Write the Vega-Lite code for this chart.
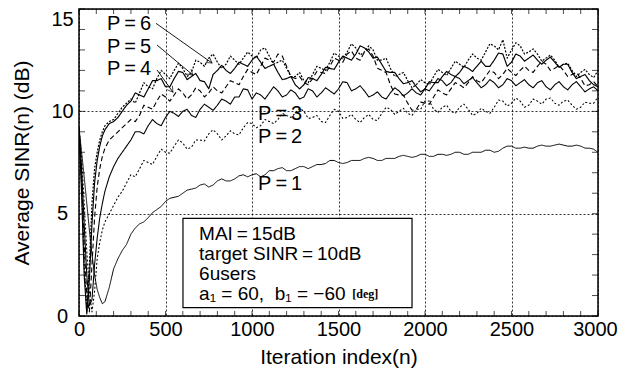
{
  "$schema": "https://vega.github.io/schema/vega-lite/v6.json",
  "autosize": "none",
  "width": 519,
  "height": 307,
  "padding": {"left": 79, "top": 9, "right": 20, "bottom": 53},
  "background": "white",
  "config": {
    "view": {"stroke": "black", "strokeWidth": 1.5},
    "font": "Liberation Sans",
    "axis": {"labelFont": "Liberation Sans", "titleFont": "Liberation Sans", "labelColor": "black", "titleColor": "black", "titleFontWeight": "normal", "domain": false, "tickColor": "black"}
  },
  "datasets": {
    "curves": [
      {"n":0,"P1":9.2,"P2":9.2,"P3":9.2,"P4":9.2,"P5":9.2,"P6":9.2},
      {"n":15,"P1":8.0,"P2":7.8,"P3":7.2,"P4":6.8,"P5":6.0,"P6":6.5},
      {"n":30,"P1":6.8,"P2":5.5,"P3":4.5,"P4":3.5,"P5":2.0,"P6":2.5},
      {"n":45,"P1":5.5,"P2":3.2,"P3":2.0,"P4":1.0,"P5":0.1,"P6":0.2},
      {"n":60,"P1":4.2,"P2":1.2,"P3":0.5,"P4":0.2,"P5":1.8,"P6":2.5},
      {"n":75,"P1":3.0,"P2":0.2,"P3":0.8,"P4":2.5,"P5":4.5,"P6":5.5},
      {"n":90,"P1":2.0,"P2":1.2,"P3":2.5,"P4":4.8,"P5":6.5,"P6":7.2},
      {"n":105,"P1":1.3,"P2":2.8,"P3":3.8,"P4":6.3,"P5":7.6,"P6":8.0},
      {"n":120,"P1":0.9,"P2":3.6,"P3":4.8,"P4":7.2,"P5":8.3,"P6":8.6},
      {"n":135,"P1":0.6,"P2":4.2,"P3":5.5,"P4":7.8,"P5":8.8,"P6":9.0},
      {"n":150,"P1":0.7,"P2":4.6,"P3":6.1,"P4":8.2,"P5":9.1,"P6":9.3},
      {"n":175,"P1":1.4,"P2":5.0,"P3":6.8,"P4":8.6,"P5":9.4,"P6":9.5},
      {"n":200,"P1":2.3,"P2":5.4,"P3":7.3,"P4":8.8,"P5":9.5,"P6":9.6},
      {"n":225,"P1":2.8,"P2":5.8,"P3":7.7,"P4":9.0,"P5":9.7,"P6":9.9},
      {"n":250,"P1":3.2,"P2":6.1,"P3":8.0,"P4":9.2,"P5":10.0,"P6":10.2},
      {"n":275,"P1":3.5,"P2":6.5,"P3":8.3,"P4":9.4,"P5":10.3,"P6":10.4},
      {"n":300,"P1":4.0,"P2":6.9,"P3":8.6,"P4":9.6,"P5":10.5,"P6":10.6},
      {"n":325,"P1":4.3,"P2":6.8,"P3":9.0,"P4":9.5,"P5":10.9,"P6":10.4},
      {"n":350,"P1":4.5,"P2":7.2,"P3":9.0,"P4":9.8,"P5":10.8,"P6":10.9},
      {"n":375,"P1":4.6,"P2":7.6,"P3":8.9,"P4":10.3,"P5":10.7,"P6":11.4},
      {"n":400,"P1":4.8,"P2":7.5,"P3":9.3,"P4":10.2,"P5":11.1,"P6":11.2},
      {"n":425,"P1":5.05,"P2":7.4,"P3":9.6,"P4":10.1,"P5":11.5,"P6":11.1},
      {"n":450,"P1":5.2,"P2":7.8,"P3":9.4,"P4":10.5,"P5":11.5,"P6":11.6},
      {"n":475,"P1":5.35,"P2":8.15,"P3":9.3,"P4":10.85,"P5":11.6,"P6":12.0},
      {"n":500,"P1":5.6,"P2":8.0,"P3":9.7,"P4":10.7,"P5":11.2,"P6":11.8},
      {"n":525,"P1":5.75,"P2":7.95,"P3":10.0,"P4":10.5,"P5":11.2,"P6":11.6},
      {"n":550,"P1":5.8,"P2":8.3,"P3":9.9,"P4":10.8,"P5":11.6,"P6":12.0},
      {"n":575,"P1":5.85,"P2":8.6,"P3":9.75,"P4":11.1,"P5":11.95,"P6":12.35},
      {"n":600,"P1":6.0,"P2":8.45,"P3":10.0,"P4":10.9,"P5":11.9,"P6":12.1},
      {"n":625,"P1":6.15,"P2":8.15,"P3":10.1,"P4":10.6,"P5":11.55,"P6":11.7},
      {"n":650,"P1":6.2,"P2":8.25,"P3":9.8,"P4":10.8,"P5":11.7,"P6":11.9},
      {"n":675,"P1":6.25,"P2":8.6,"P3":9.7,"P4":11.15,"P5":11.85,"P6":12.5},
      {"n":700,"P1":6.4,"P2":8.6,"P3":10.1,"P4":11.0,"P5":11.5,"P6":12.4},
      {"n":725,"P1":6.45,"P2":8.55,"P3":10.35,"P4":10.7,"P5":11.45,"P6":12.2},
      {"n":750,"P1":6.3,"P2":8.9,"P3":10.2,"P4":10.9,"P5":11.1,"P6":12.6},
      {"n":775,"P1":6.4,"P2":9.1,"P3":10.05,"P4":11.2,"P5":11.8,"P6":12.8},
      {"n":800,"P1":6.6,"P2":8.9,"P3":10.3,"P4":11.0,"P5":12.0,"P6":12.4},
      {"n":825,"P1":6.7,"P2":8.6,"P3":10.6,"P4":10.9,"P5":12.25,"P6":12.1},
      {"n":850,"P1":6.6,"P2":8.8,"P3":10.5,"P4":11.2,"P5":12.0,"P6":12.3},
      {"n":875,"P1":6.6,"P2":9.05,"P3":10.35,"P4":11.5,"P5":11.85,"P6":12.7},
      {"n":900,"P1":6.7,"P2":8.9,"P3":10.7,"P4":11.4,"P5":12.1,"P6":12.5},
      {"n":925,"P1":6.85,"P2":8.85,"P3":10.7,"P4":11.3,"P5":12.4,"P6":12.3},
      {"n":950,"P1":6.9,"P2":9.2,"P3":11.1,"P4":11.7,"P5":12.3,"P6":12.6},
      {"n":975,"P1":6.8,"P2":9.45,"P3":11.05,"P4":12.05,"P5":12.2,"P6":12.9},
      {"n":1000,"P1":6.9,"P2":9.4,"P3":10.6,"P4":11.9,"P5":12.5,"P6":12.7},
      {"n":1025,"P1":6.95,"P2":9.2,"P3":10.9,"P4":11.8,"P5":12.7,"P6":12.6},
      {"n":1050,"P1":6.8,"P2":9.3,"P3":10.8,"P4":12.2,"P5":12.4,"P6":13.0},
      {"n":1075,"P1":6.9,"P2":9.6,"P3":10.6,"P4":12.6,"P5":12.1,"P6":13.1},
      {"n":1100,"P1":7.1,"P2":9.5,"P3":10.9,"P4":12.5,"P5":12.2,"P6":12.7},
      {"n":1125,"P1":7.1,"P2":9.4,"P3":11.2,"P4":12.4,"P5":12.3,"P6":12.3},
      {"n":1150,"P1":7.2,"P2":9.6,"P3":11.0,"P4":12.8,"P5":11.9,"P6":12.4},
      {"n":1175,"P1":7.25,"P2":9.9,"P3":10.7,"P4":12.7,"P5":11.55,"P6":12.5},
      {"n":1200,"P1":7.1,"P2":9.8,"P3":10.8,"P4":12.2,"P5":11.6,"P6":12.1},
      {"n":1225,"P1":7.1,"P2":9.7,"P3":11.05,"P4":11.7,"P5":11.7,"P6":11.7},
      {"n":1250,"P1":7.2,"P2":9.9,"P3":10.9,"P4":11.6,"P5":11.3,"P6":11.7},
      {"n":1275,"P1":7.3,"P2":10.15,"P3":10.6,"P4":11.7,"P5":11.1,"P6":11.9},
      {"n":1300,"P1":7.3,"P2":10.0,"P3":10.7,"P4":11.4,"P5":11.3,"P6":11.5},
      {"n":1325,"P1":7.2,"P2":9.65,"P3":11.1,"P4":11.3,"P5":11.65,"P6":11.4},
      {"n":1350,"P1":7.3,"P2":9.7,"P3":11.0,"P4":11.6,"P5":11.6,"P6":11.8},
      {"n":1375,"P1":7.4,"P2":9.8,"P3":10.7,"P4":11.95,"P5":11.5,"P6":12.2},
      {"n":1400,"P1":7.4,"P2":9.5,"P3":10.9,"P4":11.9,"P5":11.8,"P6":12.1},
      {"n":1425,"P1":7.45,"P2":9.45,"P3":11.15,"P4":11.85,"P5":12.15,"P6":12.0},
      {"n":1450,"P1":7.6,"P2":9.8,"P3":11.0,"P4":12.2,"P5":12.1,"P6":12.4},
      {"n":1475,"P1":7.6,"P2":10.1,"P3":10.85,"P4":12.6,"P5":12.05,"P6":12.85},
      {"n":1500,"P1":7.5,"P2":10.0,"P3":11.1,"P4":12.5,"P5":12.4,"P6":12.7},
      {"n":1525,"P1":7.45,"P2":9.65,"P3":11.45,"P4":12.4,"P5":12.7,"P6":12.55},
      {"n":1550,"P1":7.5,"P2":9.7,"P3":11.4,"P4":12.8,"P5":12.6,"P6":12.9},
      {"n":1575,"P1":7.6,"P2":9.85,"P3":11.0,"P4":12.95,"P5":12.5,"P6":13.3},
      {"n":1600,"P1":7.6,"P2":9.6,"P3":11.1,"P4":12.6,"P5":12.8,"P6":13.1},
      {"n":1625,"P1":7.6,"P2":9.45,"P3":11.25,"P4":12.5,"P5":13.2,"P6":12.75},
      {"n":1650,"P1":7.7,"P2":9.7,"P3":11.0,"P4":12.9,"P5":13.1,"P6":12.9},
      {"n":1675,"P1":7.75,"P2":9.85,"P3":10.7,"P4":13.05,"P5":12.9,"P6":13.2},
      {"n":1700,"P1":7.7,"P2":9.6,"P3":10.8,"P4":12.7,"P5":12.6,"P6":13.0},
      {"n":1725,"P1":7.6,"P2":9.55,"P3":10.95,"P4":12.1,"P5":12.65,"P6":12.5},
      {"n":1750,"P1":7.6,"P2":9.9,"P3":10.7,"P4":12.0,"P5":12.3,"P6":12.5},
      {"n":1775,"P1":7.7,"P2":10.2,"P3":10.6,"P4":11.9,"P5":11.95,"P6":12.6},
      {"n":1800,"P1":7.7,"P2":10.1,"P3":10.9,"P4":11.3,"P5":11.9,"P6":12.1},
      {"n":1825,"P1":7.7,"P2":9.85,"P3":11.15,"P4":10.85,"P5":11.9,"P6":11.7},
      {"n":1850,"P1":7.8,"P2":10.0,"P3":11.0,"P4":10.8,"P5":11.6,"P6":11.8},
      {"n":1875,"P1":7.85,"P2":10.15,"P3":10.75,"P4":10.8,"P5":11.35,"P6":11.9},
      {"n":1900,"P1":7.8,"P2":9.9,"P3":10.9,"P4":10.4,"P5":11.4,"P6":11.5},
      {"n":1925,"P1":7.75,"P2":9.8,"P3":11.1,"P4":10.05,"P5":11.5,"P6":11.15},
      {"n":1950,"P1":7.8,"P2":10.1,"P3":10.9,"P4":10.1,"P5":11.2,"P6":11.3},
      {"n":1975,"P1":7.9,"P2":10.1,"P3":10.8,"P4":10.45,"P5":10.95,"P6":11.55},
      {"n":2000,"P1":7.9,"P2":10.5,"P3":11.1,"P4":10.4,"P5":11.1,"P6":11.4},
      {"n":2025,"P1":7.8,"P2":10.5,"P3":11.0,"P4":10.35,"P5":11.45,"P6":11.3},
      {"n":2050,"P1":7.8,"P2":10.1,"P3":11.3,"P4":10.7,"P5":11.4,"P6":11.7},
      {"n":2075,"P1":7.9,"P2":9.95,"P3":11.6,"P4":11.05,"P5":11.4,"P6":12.05},
      {"n":2100,"P1":7.9,"P2":10.2,"P3":11.5,"P4":10.9,"P5":11.7,"P6":11.9},
      {"n":2125,"P1":7.85,"P2":10.3,"P3":11.25,"P4":10.8,"P5":11.95,"P6":11.75},
      {"n":2150,"P1":7.9,"P2":10.0,"P3":11.4,"P4":11.1,"P5":11.8,"P6":12.1},
      {"n":2175,"P1":8.0,"P2":9.9,"P3":11.7,"P4":11.4,"P5":11.7,"P6":12.45},
      {"n":2200,"P1":8.0,"P2":10.2,"P3":11.6,"P4":11.3,"P5":11.9,"P6":12.3},
      {"n":2225,"P1":7.9,"P2":10.35,"P3":11.35,"P4":11.15,"P5":12.2,"P6":12.15},
      {"n":2250,"P1":7.9,"P2":10.1,"P3":11.5,"P4":11.4,"P5":12.1,"P6":12.5},
      {"n":2275,"P1":8.0,"P2":9.8,"P3":11.65,"P4":11.7,"P5":11.95,"P6":12.8},
      {"n":2300,"P1":8.0,"P2":9.9,"P3":11.4,"P4":11.5,"P5":12.2,"P6":12.6},
      {"n":2325,"P1":8.0,"P2":10.15,"P3":11.15,"P4":11.4,"P5":12.45,"P6":12.5},
      {"n":2350,"P1":8.1,"P2":10.0,"P3":11.3,"P4":11.7,"P5":12.2,"P6":12.9},
      {"n":2375,"P1":8.1,"P2":9.9,"P3":11.55,"P4":12.0,"P5":12.2,"P6":13.3},
      {"n":2400,"P1":8.0,"P2":10.2,"P3":11.4,"P4":11.9,"P5":12.5,"P6":13.2},
      {"n":2425,"P1":8.05,"P2":10.55,"P3":11.15,"P4":11.6,"P5":12.85,"P6":13.0},
      {"n":2450,"P1":8.2,"P2":10.5,"P3":11.3,"P4":11.8,"P5":12.8,"P6":13.5},
      {"n":2475,"P1":8.3,"P2":10.25,"P3":11.6,"P4":12.1,"P5":12.2,"P6":12.6},
      {"n":2500,"P1":8.3,"P2":10.4,"P3":11.5,"P4":11.9,"P5":12.4,"P6":13.0},
      {"n":2525,"P1":8.2,"P2":10.65,"P3":11.25,"P4":11.75,"P5":12.8,"P6":13.35},
      {"n":2550,"P1":8.2,"P2":10.5,"P3":11.4,"P4":12.0,"P5":12.7,"P6":13.2},
      {"n":2575,"P1":8.25,"P2":10.2,"P3":11.55,"P4":12.2,"P5":12.45,"P6":12.8},
      {"n":2600,"P1":8.2,"P2":10.3,"P3":11.3,"P4":12.0,"P5":12.6,"P6":12.9},
      {"n":2625,"P1":8.2,"P2":10.6,"P3":11.15,"P4":11.9,"P5":12.75,"P6":13.05},
      {"n":2650,"P1":8.3,"P2":10.5,"P3":11.4,"P4":12.2,"P5":12.5,"P6":12.8},
      {"n":2675,"P1":8.35,"P2":10.35,"P3":11.5,"P4":12.45,"P5":12.3,"P6":12.45},
      {"n":2700,"P1":8.3,"P2":10.6,"P3":11.2,"P4":12.3,"P5":12.5,"P6":12.6},
      {"n":2725,"P1":8.3,"P2":10.65,"P3":11.05,"P4":12.0,"P5":12.65,"P6":12.75},
      {"n":2750,"P1":8.35,"P2":10.4,"P3":11.3,"P4":12.1,"P5":12.4,"P6":12.5},
      {"n":2775,"P1":8.4,"P2":10.3,"P3":11.45,"P4":12.25,"P5":12.15,"P6":12.15},
      {"n":2800,"P1":8.35,"P2":10.5,"P3":11.2,"P4":12.0,"P5":12.3,"P6":12.3},
      {"n":2825,"P1":8.3,"P2":10.55,"P3":11.05,"P4":11.7,"P5":12.3,"P6":12.35},
      {"n":2850,"P1":8.3,"P2":10.3,"P3":11.3,"P4":11.8,"P5":11.9,"P6":12.0},
      {"n":2875,"P1":8.35,"P2":10.1,"P3":11.45,"P4":11.9,"P5":11.6,"P6":11.7},
      {"n":2900,"P1":8.3,"P2":10.2,"P3":11.2,"P4":11.6,"P5":11.7,"P6":11.9},
      {"n":2925,"P1":8.2,"P2":10.45,"P3":10.95,"P4":11.25,"P5":11.8,"P6":12.05},
      {"n":2950,"P1":8.2,"P2":10.4,"P3":11.1,"P4":11.3,"P5":11.5,"P6":11.8},
      {"n":2975,"P1":8.15,"P2":10.4,"P3":11.2,"P4":11.45,"P5":11.3,"P6":11.65},
      {"n":3000,"P1":8.0,"P2":10.7,"P3":11.0,"P4":11.2,"P5":11.2,"P6":12.0}
    ],
    "labels": [
      {"t": "P\u2009=\u20096", "x": 162, "y": 13.97},
      {"t": "P\u2009=\u20095", "x": 162, "y": 12.85},
      {"t": "P\u2009=\u20094", "x": 162, "y": 11.78},
      {"t": "P\u2009=\u20093", "x": 1035, "y": 9.6},
      {"t": "P\u2009=\u20092", "x": 1035, "y": 8.45},
      {"t": "P\u2009=\u20091", "x": 1035, "y": 6.16}
    ],
    "arrows": [
      {"k": "P6", "x1": 445, "y1": 14.3, "x2": 769, "y2": 12.36},
      {"k": "P5", "x1": 451, "y1": 13.24, "x2": 659, "y2": 11.77},
      {"k": "P4", "x1": 451, "y1": 12.02, "x2": 543, "y2": 10.94}
    ],
    "boxtext": [
      {"t": "MAI\u2009=\u200915dB", "x": 694, "y": 3.71},
      {"t": "target SINR\u2009=\u200910dB", "x": 694, "y": 2.74},
      {"t": "6users", "x": 694, "y": 1.76},
      {"t": "a\u2081\u00a0=\u00a060,\u00a0\u00a0b\u2081\u00a0=\u00a0\u221260", "x": 694, "y": 0.78}
    ],
    "xticks": [
      {"n":0},{"n":100},{"n":200},{"n":300},{"n":400},{"n":500},{"n":600},{"n":700},{"n":800},{"n":900},
      {"n":1000},{"n":1100},{"n":1200},{"n":1300},{"n":1400},{"n":1500},{"n":1600},{"n":1700},{"n":1800},{"n":1900},
      {"n":2000},{"n":2100},{"n":2200},{"n":2300},{"n":2400},{"n":2500},{"n":2600},{"n":2700},{"n":2800},{"n":2900},{"n":3000}
    ],
    "yticks": [
      {"v":0},{"v":1},{"v":2},{"v":3},{"v":4},{"v":5},{"v":6},{"v":7},{"v":8},{"v":9},{"v":10},{"v":11},{"v":12},{"v":13},{"v":14},{"v":15}
    ]
  },
  "layer": [
    {
      "data": {"name": "curves"},
      "transform": [{"fold": ["P1", "P2", "P3", "P4", "P5", "P6"], "as": ["series", "v"]}],
      "mark": {"type": "line", "color": "black", "clip": true, "strokeJoin": "round"},
      "encoding": {
        "x": {"field": "n", "type": "quantitative", "scale": {"domain": [0, 3000], "nice": false},
          "axis": {"orient": "bottom", "values": [0, 500, 1000, 1500, 2000, 2500, 3000], "format": "d", "title": "Iteration index(n)",
            "grid": true, "gridDash": [2, 2], "gridColor": "black", "gridWidth": 0.8, "ticks": false, "tickSize": 0,
            "labelPadding": 3, "labelFontSize": 20, "labelBaseline": "top",
            "labelOffset": {"condition": {"test": "datum.value === 3000", "value": -3}, "value": 0},
            "titleFontSize": 21,
            "titleX": 259.5, "titleY": 47, "titleBaseline": "alphabetic", "titleAlign": "center", "labelFlush": false}},
        "y": {"field": "v", "type": "quantitative", "scale": {"domain": [0, 15], "nice": false},
          "axis": {"orient": "left", "values": [0, 5, 10, 15], "format": "d", "title": "Average SINR(n) (dB)",
            "grid": true, "gridDash": [2, 2], "gridColor": "black", "gridWidth": 0.8, "ticks": false, "tickSize": 0,
            "labelPadding": 17, "labelFontSize": 20, "labelAlign": "center",
            "labelBaseline": {"condition": {"test": "datum.value === 15", "value": "top"}, "value": "middle"},
            "titleFontSize": 21, "titleX": -57, "titleY": 153.5, "titleAngle": -90, "titleBaseline": "middle", "titleAlign": "center", "labelFlush": false}},
        "detail": {"field": "series"},
        "strokeDash": {"field": "series", "type": "nominal", "legend": null,
          "scale": {"domain": ["P1", "P2", "P3", "P4", "P5", "P6"], "range": [[1, 0], [2, 2], [1, 0], [5, 3], [1, 0], [2, 1.5]]}},
        "strokeWidth": {"field": "series", "type": "ordinal", "legend": null,
          "scale": {"domain": ["P1", "P2", "P3", "P4", "P5", "P6"], "range": [1, 1.2, 1.5, 1.5, 2.5, 1.8]}}
      }
    },
    {
      "data": {"name": "xticks"},
      "mark": {"type": "tick", "orient": "vertical", "color": "black", "size": 5, "thickness": 1, "yOffset": -2.5},
      "encoding": {
        "x": {"field": "n", "type": "quantitative", "scale": {"domain": [0, 3000], "nice": false}, "axis": null},
        "y": {"datum": 0, "type": "quantitative", "scale": {"domain": [0, 15], "nice": false}, "axis": null}
      }
    },
    {
      "data": {"name": "xticks"},
      "mark": {"type": "tick", "orient": "vertical", "color": "black", "size": 5, "thickness": 1, "yOffset": 2.5},
      "encoding": {
        "x": {"field": "n", "type": "quantitative", "scale": {"domain": [0, 3000], "nice": false}, "axis": null},
        "y": {"datum": 15, "type": "quantitative", "scale": {"domain": [0, 15], "nice": false}, "axis": null}
      }
    },
    {
      "data": {"name": "yticks"},
      "mark": {"type": "tick", "orient": "horizontal", "color": "black", "size": 6, "thickness": 1, "xOffset": 3},
      "encoding": {
        "y": {"field": "v", "type": "quantitative", "scale": {"domain": [0, 15], "nice": false}, "axis": null},
        "x": {"datum": 0, "type": "quantitative", "scale": {"domain": [0, 3000], "nice": false}, "axis": null}
      }
    },
    {
      "data": {"name": "yticks"},
      "mark": {"type": "tick", "orient": "horizontal", "color": "black", "size": 6, "thickness": 1, "xOffset": -3},
      "encoding": {
        "y": {"field": "v", "type": "quantitative", "scale": {"domain": [0, 15], "nice": false}, "axis": null},
        "x": {"datum": 3000, "type": "quantitative", "scale": {"domain": [0, 3000], "nice": false}, "axis": null}
      }
    },
    {
      "data": {"values": [{"x1": 601, "x2": 1925, "y1": 0.41, "y2": 4.77}]},
      "mark": {"type": "rect", "fill": "white", "stroke": "black", "strokeWidth": 1.2},
      "encoding": {
        "x": {"field": "x1", "type": "quantitative", "scale": {"domain": [0, 3000], "nice": false}, "axis": null},
        "x2": {"field": "x2"},
        "y": {"field": "y1", "type": "quantitative", "scale": {"domain": [0, 15], "nice": false}, "axis": null},
        "y2": {"field": "y2"}
      }
    },
    {
      "data": {"name": "boxtext"},
      "mark": {"type": "text", "align": "left", "baseline": "alphabetic", "fontSize": 19, "font": "Liberation Sans", "color": "black"},
      "encoding": {
        "x": {"field": "x", "type": "quantitative", "scale": {"domain": [0, 3000], "nice": false}, "axis": null},
        "y": {"field": "y", "type": "quantitative", "scale": {"domain": [0, 15], "nice": false}, "axis": null},
        "text": {"field": "t"}
      }
    },
    {
      "data": {"values": [{"t": "[deg]", "x": 1580, "y": 0.88}]},
      "mark": {"type": "text", "align": "left", "baseline": "alphabetic", "fontSize": 12, "fontWeight": "bold", "font": "Liberation Serif", "color": "black"},
      "encoding": {
        "x": {"field": "x", "type": "quantitative", "scale": {"domain": [0, 3000], "nice": false}, "axis": null},
        "y": {"field": "y", "type": "quantitative", "scale": {"domain": [0, 15], "nice": false}, "axis": null},
        "text": {"field": "t"}
      }
    },
    {
      "data": {"name": "labels"},
      "mark": {"type": "text", "align": "left", "baseline": "alphabetic", "fontSize": 20, "font": "Liberation Sans", "color": "black"},
      "encoding": {
        "x": {"field": "x", "type": "quantitative", "scale": {"domain": [0, 3000], "nice": false}, "axis": null},
        "y": {"field": "y", "type": "quantitative", "scale": {"domain": [0, 15], "nice": false}, "axis": null},
        "text": {"field": "t"}
      }
    },
    {
      "data": {"name": "arrows"},
      "mark": {"type": "rule", "color": "black", "strokeWidth": 0.9},
      "encoding": {
        "x": {"field": "x1", "type": "quantitative", "scale": {"domain": [0, 3000], "nice": false}, "axis": null},
        "y": {"field": "y1", "type": "quantitative", "scale": {"domain": [0, 15], "nice": false}, "axis": null},
        "x2": {"field": "x2"},
        "y2": {"field": "y2"}
      }
    },
    {
      "data": {"name": "arrows"},
      "transform": [{"filter": "datum.k === 'P6'"}],
      "mark": {"type": "point", "shape": "M-1,-0.6L0,0L-1,0.6", "filled": false, "stroke": "black", "strokeWidth": 1, "size": 120, "angle": 35},
      "encoding": {
        "x": {"field": "x2", "type": "quantitative", "scale": {"domain": [0, 3000], "nice": false}, "axis": null},
        "y": {"field": "y2", "type": "quantitative", "scale": {"domain": [0, 15], "nice": false}, "axis": null}
      }
    },
    {
      "data": {"name": "arrows"},
      "transform": [{"filter": "datum.k === 'P5'"}],
      "mark": {"type": "point", "shape": "M-1,-0.6L0,0L-1,0.6", "filled": false, "stroke": "black", "strokeWidth": 1, "size": 120, "angle": 40},
      "encoding": {
        "x": {"field": "x2", "type": "quantitative", "scale": {"domain": [0, 3000], "nice": false}, "axis": null},
        "y": {"field": "y2", "type": "quantitative", "scale": {"domain": [0, 15], "nice": false}, "axis": null}
      }
    },
    {
      "data": {"name": "arrows"},
      "transform": [{"filter": "datum.k === 'P4'"}],
      "mark": {"type": "point", "shape": "M-1,-0.6L0,0L-1,0.6", "filled": false, "stroke": "black", "strokeWidth": 1, "size": 120, "angle": 54},
      "encoding": {
        "x": {"field": "x2", "type": "quantitative", "scale": {"domain": [0, 3000], "nice": false}, "axis": null},
        "y": {"field": "y2", "type": "quantitative", "scale": {"domain": [0, 15], "nice": false}, "axis": null}
      }
    }
  ],
  "resolve": {"axis": {"x": "independent", "y": "independent"}}
}
